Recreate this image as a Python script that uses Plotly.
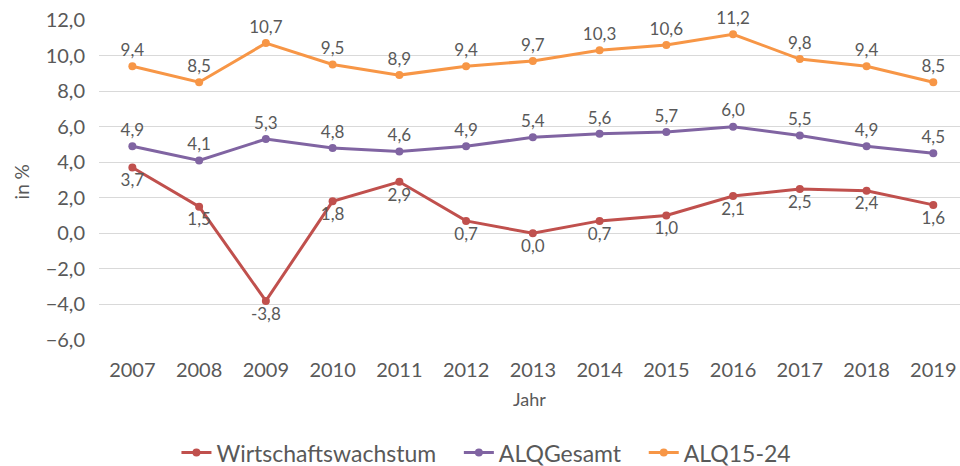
import plotly.graph_objects as go

years = ["2007", "2008", "2009", "2010", "2011", "2012", "2013", "2014", "2015", "2016", "2017", "2018", "2019"]
wirtschaftswachstum = [3.7, 1.5, -3.8, 1.8, 2.9, 0.7, 0.0, 0.7, 1.0, 2.1, 2.5, 2.4, 1.6]
alq_gesamt = [4.9, 4.1, 5.3, 4.8, 4.6, 4.9, 5.4, 5.6, 5.7, 6.0, 5.5, 4.9, 4.5]
alq_15_24 = [9.4, 8.5, 10.7, 9.5, 8.9, 9.4, 9.7, 10.3, 10.6, 11.2, 9.8, 9.4, 8.5]
y_ticks = [-6, -4, -2, 0, 2, 4, 6, 8, 10, 12]

FONT = "Lato"
GREY = "#595959"
PAD = "\u00a0\u00a0\u00a0"

series = [
    ("Wirtschaftswachstum", wirtschaftswachstum, "#C0504D", "bottom center", PAD),
    ("ALQGesamt", alq_gesamt, "#8064A2", "top center", PAD),
    ("ALQ15-24", alq_15_24, "#F79646", "top center", ""),
]

fig = go.Figure()
for name, vals, color, pos, pad in series:
    fig.add_trace(go.Scatter(
        x=years, y=vals, name=name + pad,
        mode="lines+markers+text",
        line=dict(color=color, width=3),
        marker=dict(color=color, size=8),
        text=vals,
        texttemplate="%{y:.1f}",
        textposition=pos,
        textfont=dict(family=FONT, size=17, color=GREY),
        cliponaxis=False,
    ))

fig.update_layout(
    width=960, height=466,
    margin=dict(l=99, r=0, t=20, b=126, autoexpand=False),
    paper_bgcolor="white", plot_bgcolor="white",
    separators=",.",
    font=dict(family=FONT, color=GREY, size=17),
    showlegend=True,
    legend=dict(
        orientation="h", x=0.45, xanchor="center", y=-0.352, yanchor="middle",
        font=dict(family=FONT, size=23, color=GREY),
        itemwidth=30, traceorder="normal",
    ),
    xaxis=dict(
        type="category", range=[-0.5, 12.4], automargin=False,
        showgrid=False, showline=False, zeroline=False,
        tickfont=dict(family=FONT, size=20, color=GREY),
        ticks="", ticklabelstandoff=16, ticklabeloverflow="allow",
        title=dict(text="Jahr", font=dict(family=FONT, size=18, color=GREY), standoff=13),
    ),
    yaxis=dict(
        range=[-6, 12], tickvals=y_ticks, tickformat=".1f", automargin=False,
        showgrid=True, gridcolor="#D9D9D9", gridwidth=1,
        zeroline=False, showline=False,
        tickfont=dict(family=FONT, size=20, color=GREY),
        ticks="", ticklabelstandoff=13,
    ),
    annotations=[dict(
        text="in %", textangle=-90, showarrow=False,
        xref="paper", yref="paper", x=-0.09, y=0.494,
        xanchor="center", yanchor="middle",
        font=dict(family=FONT, size=19, color=GREY),
    )],
)

fig.write_html("out.html", config={"displayModeBar": False},
               post_script="document.body.style.margin='0';")
